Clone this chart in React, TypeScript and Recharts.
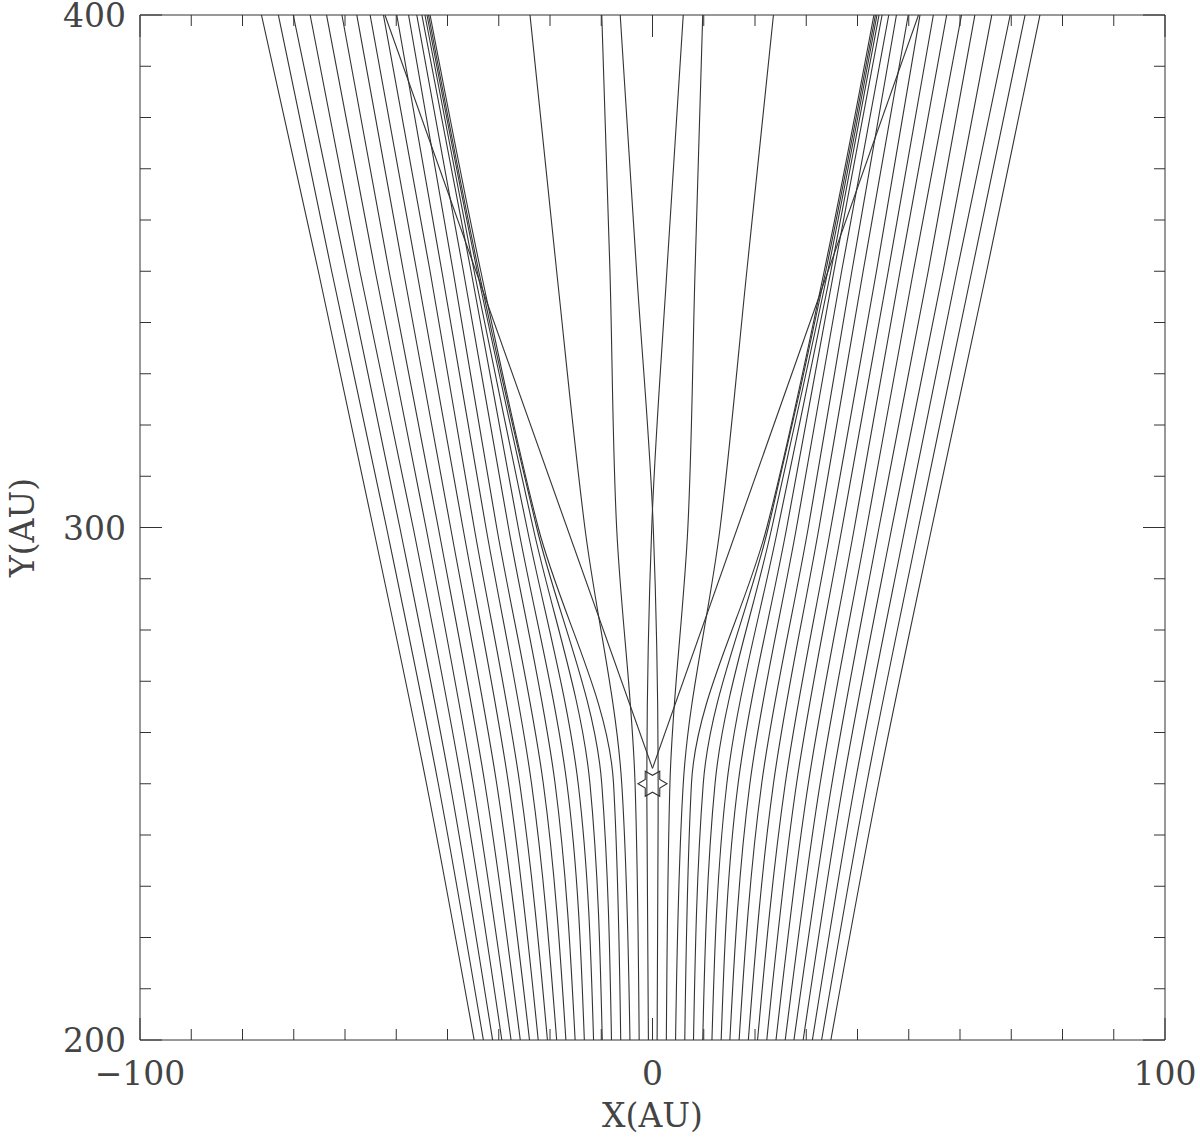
import { LineChart, Line, XAxis, YAxis, ReferenceDot, Label } from 'recharts'

const yLevels = [400, 350, 300, 250, 200]

// X (AU) of every streamline at those levels.
// Order: left lines outer -> inner (L1..L20), then right lines inner -> outer (R20..R1)
const x400 = [
  -76.3, -73.0, -70.1, -66.8, -63.6, -60.6, -57.7, -55.1, -52.5, -49.9,
  -47.6, -46.0, -45.0, -44.4, -44.0, -43.7, -43.4, -23.9, -9.9, 6.0,
  -6.3, 9.8, 23.6, 43.2, 43.5, 43.8, 44.2, 44.8, 46.1, 47.6,
  49.9, 52.2, 54.8, 57.4, 60.3, 62.9, 66.2, 69.8, 72.7, 75.6,
]
const x350 = [
  -65.2, -62.6, -59.7, -57.1, -54.1, -51.4, -48.6, -46.0, -43.4, -41.1,
  -38.9, -36.9, -35.4, -34.8, -34.2, -33.9, -33.5, -18.7, -8.3, 2.8,
  -3.1, 8.3, 18.4, 33.5, 33.8, 34.2, 34.8, 35.4, 36.9, 38.9,
  41.1, 43.7, 46.0, 48.3, 50.9, 53.8, 56.7, 59.4, 62.3, 65.2,
]
const x300 = [
  -54.5, -51.9, -49.3, -46.7, -44.2, -41.8, -39.4, -37.0, -34.8, -32.5,
  -30.4, -28.1, -26.2, -24.5, -23.3, -22.6, -22.3, -13.2, -7.0, -0.15,
  0.15, 6.9, 13.2, 22.3, 22.6, 23.3, 24.5, 26.2, 28.1, 30.4,
  32.5, 34.8, 37.0, 39.4, 41.8, 44.2, 46.7, 49.3, 51.9, 54.5,
]
const x250 = [
  -44.1, -41.8, -39.5, -37.2, -35.0, -32.7, -30.4, -28.1, -25.9, -23.6,
  -21.3, -19.0, -16.7, -14.5, -12.2, -9.9, -7.6, -6.0, -3.4, -1.1,
  1.1, 3.4, 6.0, 7.6, 9.9, 12.2, 14.5, 16.7, 19.0, 21.3,
  23.6, 25.9, 28.1, 30.4, 32.7, 35.0, 37.2, 39.5, 41.8, 44.1,
]
const x200 = [
  -34.8, -33.0, -31.2, -29.4, -27.6, -25.8, -24.0, -22.3, -20.5, -18.7,
  -16.9, -15.1, -13.3, -11.5, -9.8, -8.0, -6.2, -4.4, -2.6, -0.8,
  0.9, 2.7, 4.5, 6.3, 8.0, 9.8, 11.6, 13.4, 15.1, 16.9,
  18.7, 20.5, 22.3, 24.1, 25.9, 27.6, 29.4, 31.2, 33.0, 34.8,
]

// the two straight lines leaving the star
const vApexY = 253
const vTopX = [-52.2, 51.9]

// star position
const starX = 0
const starY = 250

const xTicks = [-100, -90, -80, -70, -60, -50, -40, -30, -20, -10, 0, 10, 20, 30, 40, 50, 60, 70, 80, 90, 100]
const xLabels = [-100, 0, 100]
const yTicks = [200, 210, 220, 230, 240, 250, 260, 270, 280, 290, 300, 310, 320, 330, 340, 350, 360, 370, 380, 390, 400]
const yLabels = [200, 300, 400]

const INK = '#333'
const TEXT = '#444'
const FONT = '"DejaVu Serif", "Liberation Serif", serif'

const levels = [x400, x350, x300, x250, x200]
const streamlines = x200.map((_, i) => yLevels.map((y, k) => ({ y, x: levels[k][i] })))
const vLines = vTopX.map((tx) => [
  { x: tx, y: 400 },
  { x: 0, y: vApexY },
])

const tickLen = (v: number) => (v % 100 === 0 ? 22 : 11)
const fmt = (v: number) => (v < 0 ? '\u2212' + Math.abs(v) : String(v))

function BottomTick({ x, y, payload }: any) {
  const v = payload.value
  return (
    <g>
      <line x1={x} x2={x} y1={y} y2={y - tickLen(v)} stroke={INK} />
      {xLabels.includes(v) && (
        <text x={x} y={y + 45} textAnchor="middle" fontSize={33} fontFamily={FONT} fill={TEXT}>
          {fmt(v)}
        </text>
      )}
    </g>
  )
}

function TopTick({ x, y, payload }: any) {
  return <line x1={x} x2={x} y1={y} y2={y + tickLen(payload.value)} stroke={INK} />
}

function LeftTick({ x, y, payload }: any) {
  const v = payload.value
  return (
    <g>
      <line x1={x} x2={x + tickLen(v)} y1={y} y2={y} stroke={INK} />
      {yLabels.includes(v) && (
        <text x={x - 14} y={y + 12} textAnchor="end" fontSize={33} fontFamily={FONT} fill={TEXT}>
          {v}
        </text>
      )}
    </g>
  )
}

function RightTick({ x, y, payload }: any) {
  return <line x1={x} x2={x - tickLen(payload.value)} y1={y} y2={y} stroke={INK} />
}

function StarShape({ cx, cy }: any) {
  const pts: string[] = []
  for (let k = 0; k < 12; k++) {
    const a = (k * 30 * Math.PI) / 180
    const r = k % 2 === 0 ? 14.5 : 8.4
    pts.push(`${cx + r * Math.cos(a)},${cy - r * Math.sin(a)}`)
  }
  return <polygon points={pts.join(' ')} fill="none" stroke={INK} strokeWidth={1.1} />
}

export default function App() {
  return (
    <div style={{ position: 'absolute', left: 0, top: 0, background: '#fff' }}>
      <LineChart width={1200} height={1143} margin={{ top: 0, right: 0, bottom: 0, left: 0 }}>
        <XAxis
          type="number"
          dataKey="x"
          domain={[-100, 100]}
          ticks={xTicks}
          interval={0}
          height={103}
          tickSize={0}
          tickMargin={0}
          tickLine={false}
          axisLine={{ stroke: INK }}
          tick={(p: any) => <BottomTick {...p} />}
          allowDataOverflow
        >
          <Label
            content={({ viewBox }: any) => (
              <text
                x={viewBox.x + viewBox.width / 2}
                y={viewBox.y + 87}
                textAnchor="middle"
                fontSize={33}
                fontFamily={FONT}
                fill={TEXT}
              >
                X(AU)
              </text>
            )}
          />
        </XAxis>
        <XAxis
          xAxisId="top"
          orientation="top"
          type="number"
          dataKey="x"
          domain={[-100, 100]}
          ticks={xTicks}
          interval={0}
          height={15}
          tickSize={0}
          tickMargin={0}
          tickLine={false}
          axisLine={{ stroke: INK }}
          tick={(p: any) => <TopTick {...p} />}
          allowDataOverflow
        />
        <YAxis
          type="number"
          domain={[200, 400]}
          ticks={yTicks}
          interval={0}
          width={140}
          tickSize={0}
          tickMargin={0}
          tickLine={false}
          axisLine={{ stroke: INK }}
          tick={(p: any) => <LeftTick {...p} />}
          allowDataOverflow
        >
          <Label
            content={({ viewBox }: any) => {
              const cx = viewBox.x + 22
              const cy = viewBox.y + viewBox.height / 2
              return (
                <text
                  x={cx}
                  y={cy}
                  transform={`rotate(-90 ${cx} ${cy})`}
                  textAnchor="middle"
                  dominantBaseline="central"
                  fontSize={33}
                  fontFamily={FONT}
                  fill={TEXT}
                >
                  Y(AU)
                </text>
              )
            }}
          />
        </YAxis>
        <YAxis
          yAxisId="right"
          orientation="right"
          type="number"
          domain={[200, 400]}
          ticks={yTicks}
          interval={0}
          width={35}
          tickSize={0}
          tickMargin={0}
          tickLine={false}
          axisLine={{ stroke: INK }}
          tick={(p: any) => <RightTick {...p} />}
          allowDataOverflow
        />
        {streamlines.map((pts, i) => (
          <Line
            key={'s' + i}
            data={pts}
            dataKey="y"
            type="monotoneY"
            stroke={INK}
            strokeWidth={1.1}
            dot={false}
            activeDot={false}
            isAnimationActive={false}
          />
        ))}
        {vLines.map((pts, i) => (
          <Line
            key={'v' + i}
            data={pts}
            dataKey="y"
            type="linear"
            stroke={INK}
            strokeWidth={1.1}
            dot={false}
            activeDot={false}
            isAnimationActive={false}
          />
        ))}
        <ReferenceDot x={starX} y={starY} r={14} shape={StarShape} ifOverflow="visible" />
      </LineChart>
    </div>
  )
}
